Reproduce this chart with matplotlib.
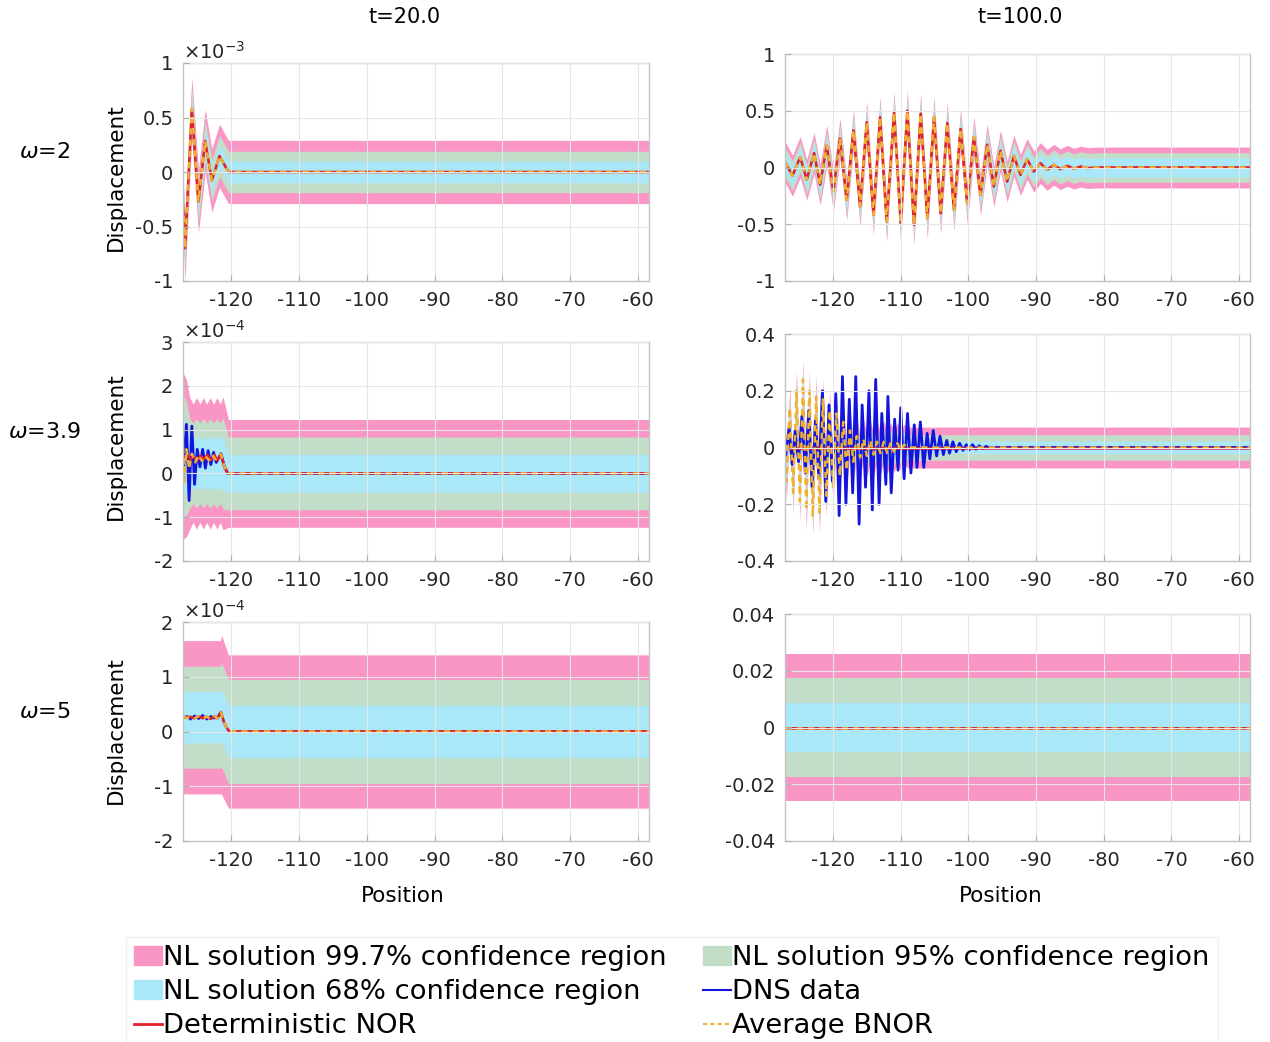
import matplotlib
matplotlib.use('Agg')
import matplotlib.pyplot as plt
from matplotlib.patches import Patch
from matplotlib.lines import Line2D
import numpy as np

plt.rcParams['font.family'] = ['DejaVu Sans']
plt.rcParams['axes.unicode_minus'] = False
plt.rcParams['mathtext.fontset'] = 'dejavusans'

PINK = '#f996c6'
GREEN = '#c2dec8'
CYAN = '#a9e7f9'
BLUE = '#1414dc'
RED = '#e3212b'
ORANGE = '#efb12e'

col_titles = ['t=20.0', 't=100.0']
row_titles = [r'$\omega$=2', r'$\omega$=3.9', r'$\omega$=5']
xticks = [-120, -110, -100, -90, -80, -70, -60]
legend_labels = ['NL solution 99.7% confidence region', 'NL solution 68% confidence region',
                 'Deterministic NOR', 'NL solution 95% confidence region', 'DNS data', 'Average BNOR']

# ---- omega=2, t=20 (x1e-3) ----
w2_t20_x = [-127.1, -126.8, -125.8, -124.82, -123.83, -122.85, -121.72, -120.4, -58.4]
w2_t20_nor = [-0.30, -0.70, 0.58, -0.27, 0.285, -0.077, 0.147, 0.0, 0.0]
w2_t20_hw = [0.29, 0.19, 0.10]

# ---- omega=2, t=100 ----
w2_t100_x = [-127.1, -125.99, -124.86, -123.88, -122.80, -121.91, -120.93, -119.95, -118.97, -117.98,
             -116.99, -116.01, -115.03, -114.04, -113.06, -112.08, -110.99, -110.01, -109.03, -108.05,
             -107.06, -106.08, -105.09, -104.11, -103.13, -102.14, -101.16, -100.18, -99.19, -98.21,
             -97.23, -96.24, -95.26, -94.28, -93.29, -92.31, -91.33, -90.34, -89.36, -88.38,
             -87.39, -86.41, -85.43, -84.4, -83.4, -82.4, -81.0, -58.4]
w2_t100_nor = [0.05, -0.073, 0.092, -0.108, 0.127, -0.152, 0.192, -0.21, 0.254, -0.285,
               0.327, -0.343, 0.398, -0.417, 0.442, -0.475, 0.486, -0.49, 0.500, -0.506,
               0.474, -0.447, 0.445, -0.403, 0.392, -0.374, 0.339, -0.315, 0.268, -0.241,
               0.201, -0.168, 0.148, -0.124, 0.103, -0.065, 0.074, -0.036, 0.039, -0.021,
               0.024, -0.015, 0.015, -0.01, 0.008, -0.005, 0.0, 0.0]
w2_t100_hw = [0.18, 0.13, 0.085]

# ---- omega=3.9, t=20 (x1e-4) ----
w39_t20_nor_x = [-127.1, -126.8, -126.4, -126.0, -125.5, -125.0, -124.5, -124.0, -123.5, -123.0,
                 -122.5, -122.0, -121.5, -121.0, -120.5, -58.4]
w39_t20_nor = [0.40, 0.30, 0.42, 0.32, 0.38, 0.30, 0.40, 0.33, 0.42, 0.30,
               0.42, 0.30, 0.45, 0.15, 0.0, 0.0]
w39_t20_bnor_x = [-127.1, -126.9, -126.6, -126.2, -125.8, -125.3, -124.8, -124.3, -123.8, -123.3,
                  -122.8, -122.3, -121.5, -121.0, -120.5, -58.4]
w39_t20_bnor = [0.60, -0.20, 0.55, 0.10, 0.45, 0.25, 0.42, 0.28, 0.40, 0.30,
                0.42, 0.32, 0.44, 0.15, 0.0, 0.0]
w39_t20_dns_x = [-127.1, -126.6, -126.2, -125.8, -125.4, -125.0, -124.6, -124.2, -123.8, -123.4,
                 -123.0, -122.6, -122.2, -121.5, -121.0, -120.5, -58.4]
w39_t20_dns = [-0.10, 1.12, -0.62, 1.08, -0.25, 0.55, 0.15, 0.55, 0.12, 0.52,
               0.20, 0.48, 0.25, 0.45, 0.15, 0.0, 0.0]
w39_t20_band_x = [-127.1, -126.6, -126.1, -125.6, -125.1, -124.6, -124.1, -123.6, -123.1, -122.6,
                  -122.1, -121.6, -121.2, -120.4, -58.4]
w39_t20_band_c = [0.40, 0.35, 0.23, 0.23, 0.23, 0.23, 0.23, 0.23, 0.23, 0.23,
                  0.23, 0.23, 0.23, 0.0, 0.0]
w39_t20_hw99 = [1.90, 1.80, 1.50, 1.35, 1.50, 1.35, 1.50, 1.35, 1.50, 1.35, 1.50, 1.35, 1.52, 1.23, 1.23]
w39_t20_hw95 = [1.40, 1.30, 1.02, 0.92, 1.02, 0.92, 1.02, 0.92, 1.02, 0.92, 1.02, 0.92, 1.04, 0.83, 0.83]
w39_t20_hw68 = [0.90, 0.80, 0.61, 0.55, 0.61, 0.55, 0.61, 0.55, 0.61, 0.55, 0.61, 0.55, 0.62, 0.43, 0.43]

# ---- omega=3.9, t=100 ----
w39_t100_dns_x = [-127.1, -127.0, -126.5, -126.05, -125.6, -125.1, -124.6, -124.1, -123.6, -123.1,
                  -122.6, -122.1, -121.57, -121.08, -120.6, -120.1, -119.6, -119.1, -118.61, -118.1,
                  -117.6, -117.1, -116.65, -116.15, -115.7, -115.2, -114.7, -114.2, -113.7, -113.2,
                  -112.8, -112.2, -111.9, -111.4, -110.9, -110.4, -110.0, -109.5, -109.0, -108.5,
                  -108.0, -107.6, -107.1, -106.6, -106.1, -105.7, -105.2, -104.7, -104.2, -103.7,
                  -103.2, -102.8, -102.3, -101.8, -101.3, -100.8, -100.3, -99.9, -99.4, -98.9,
                  -98.4, -97.9, -97.4, -97.0, -58.4]
w39_t100_dns = [0.0, -0.03, 0.07, -0.06, 0.06, -0.05, 0.11, -0.09, 0.13, -0.14,
                0.10, -0.11, 0.20, -0.19, 0.15, -0.12, 0.19, -0.24, 0.25, -0.20,
                0.17, -0.16, 0.25, -0.27, 0.15, -0.14, 0.20, -0.22, 0.24, -0.20,
                0.12, -0.13, 0.18, -0.16, 0.10, -0.08, 0.14, -0.11, 0.12, -0.09,
                0.08, -0.07, 0.09, -0.07, 0.05, -0.04, 0.06, -0.03, 0.04, -0.025,
                0.025, -0.02, 0.02, -0.015, 0.015, -0.01, 0.01, -0.008, 0.01, -0.006,
                0.006, -0.004, 0.004, 0.0, 0.0]
w39_t100_bnor_x = [-127.1, -126.9, -126.4, -125.9, -125.4, -124.9, -124.45, -123.95, -123.5, -123.0,
                   -122.5, -122.0, -121.5, -121.0, -120.5, -120.0, -119.5, -119.0, -118.5, -118.0,
                   -117.5, -117.0, -116.5, -116.0, -115.5, -115.0, -114.5, -114.0, -113.5, -113.0,
                   -112.5, -112.0, -111.5, -111.0, -110.5, -110.0, -109.5, -109.0, -58.4]
w39_t100_bnor = [0.05, -0.12, 0.14, -0.16, 0.20, -0.19, 0.24, -0.22, 0.20, -0.24,
                 0.18, -0.23, 0.17, -0.17, 0.13, -0.14, 0.12, -0.10, 0.09, -0.08,
                 0.06, -0.05, 0.04, -0.035, 0.03, -0.03, 0.025, -0.025, 0.02, -0.02,
                 0.02, -0.02, 0.015, -0.015, 0.015, -0.01, 0.01, 0.0, 0.0]
w39_t100_nor_x = [-127.1, -58.4]
w39_t100_nor = [0.0, 0.0]
w39_t100_hw = [0.072, 0.045, 0.022]

# ---- omega=5, t=20 (x1e-4) ----
w5_t20_x = [-127.1, -126.5, -126.0, -125.4, -124.8, -124.2, -123.6, -123.0, -122.5, -122.0,
            -121.5, -121.0, -120.3, -58.4]
w5_t20_nor = [0.26, 0.25, 0.27, 0.24, 0.28, 0.24, 0.27, 0.23, 0.28, 0.24, 0.35, 0.15, 0.0, 0.0]
w5_t20_dns = [0.25, 0.28, 0.22, 0.29, 0.23, 0.30, 0.22, 0.28, 0.24, 0.27, 0.36, 0.14, 0.0, 0.0]
w5_t20_band_x = [-127.1, -121.6, -121.4, -120.4, -58.4]
w5_t20_band_c = [0.26, 0.26, 0.30, 0.0, 0.0]
w5_t20_hw99 = [1.40, 1.40, 1.45, 1.40, 1.40]
w5_t20_hw95 = [0.93, 0.93, 0.95, 0.95, 0.95]
w5_t20_hw68 = [0.47, 0.47, 0.48, 0.48, 0.48]

# ---- omega=5, t=100 ----
w5_t100_x = [-127.1, -58.4]
w5_t100_nor = [0.0, 0.0]
w5_t100_hw = [0.026, 0.0173, 0.0088]

panels = [
    dict(row=0, col=0, ylim=(-1, 1), yticks=[-1, -0.5, 0, 0.5, 1], ylabels=['-1', '-0.5', '0', '0.5', '1'],
         exp='-3', band_x=w2_t20_x, band_c=w2_t20_nor, hw=w2_t20_hw, dns_lw=1.2,
         dns=(w2_t20_x, w2_t20_nor), bnor=(w2_t20_x, w2_t20_nor), nor=(w2_t20_x, w2_t20_nor)),
    dict(row=0, col=1, ylim=(-1, 1), yticks=[-1, -0.5, 0, 0.5, 1], ylabels=['-1', '-0.5', '0', '0.5', '1'],
         exp=None, band_x=w2_t100_x, band_c=w2_t100_nor, hw=w2_t100_hw, dns_lw=1.2,
         dns=(w2_t100_x, w2_t100_nor), bnor=(w2_t100_x, w2_t100_nor), nor=(w2_t100_x, w2_t100_nor)),
    dict(row=1, col=0, ylim=(-2, 3), yticks=[-2, -1, 0, 1, 2, 3], ylabels=['-2', '-1', '0', '1', '2', '3'],
         exp='-4', band_x=w39_t20_band_x, band_c=w39_t20_band_c, dns_lw=2,
         hw=[w39_t20_hw99, w39_t20_hw95, w39_t20_hw68],
         dns=(w39_t20_dns_x, w39_t20_dns), bnor=(w39_t20_bnor_x, w39_t20_bnor), nor=(w39_t20_nor_x, w39_t20_nor)),
    dict(row=1, col=1, ylim=(-0.4, 0.4), yticks=[-0.4, -0.2, 0, 0.2, 0.4],
         ylabels=['-0.4', '-0.2', '0', '0.2', '0.4'],
         exp=None, band_x=w39_t100_bnor_x, band_c=w39_t100_bnor, hw=w39_t100_hw, dns_lw=2,
         dns=(w39_t100_dns_x, w39_t100_dns), bnor=(w39_t100_bnor_x, w39_t100_bnor),
         nor=(w39_t100_nor_x, w39_t100_nor)),
    dict(row=2, col=0, ylim=(-2, 2), yticks=[-2, -1, 0, 1, 2], ylabels=['-2', '-1', '0', '1', '2'],
         exp='-4', band_x=w5_t20_band_x, band_c=w5_t20_band_c, dns_lw=1.5,
         hw=[w5_t20_hw99, w5_t20_hw95, w5_t20_hw68],
         dns=(w5_t20_x, w5_t20_dns), bnor=(w5_t20_x, w5_t20_nor), nor=(w5_t20_x, w5_t20_nor)),
    dict(row=2, col=1, ylim=(-0.04, 0.04), yticks=[-0.04, -0.02, 0, 0.02, 0.04],
         ylabels=['-0.04', '-0.02', '0', '0.02', '0.04'],
         exp=None, band_x=w5_t100_x, band_c=w5_t100_nor, hw=w5_t100_hw, dns_lw=1.2,
         dns=(w5_t100_x, w5_t100_nor), bnor=(w5_t100_x, w5_t100_nor), nor=(w5_t100_x, w5_t100_nor)),
]

W, H = 1270, 1042
fig = plt.figure(figsize=(12.7, 10.42), dpi=100)

col_left = [183, 785]
col_width = [466, 465]
row_bottom = [281, 561, 841]
row_top = {0: [63, 342, 622], 1: [54, 334, 614]}

for p in panels:
    r, c = p['row'], p['col']
    top = row_top[c][r]
    ax = fig.add_axes([col_left[c] / W, 1 - row_bottom[r] / H, col_width[c] / W, (row_bottom[r] - top) / H])
    bx = np.asarray(p['band_x'])
    bc = np.asarray(p['band_c'])
    for hw, color in zip(p['hw'], [PINK, GREEN, CYAN]):
        hw = np.asarray(hw)
        ax.fill_between(bx, bc - hw, bc + hw, color=color, lw=0)
    ax.plot(*p['dns'], color=BLUE, lw=p['dns_lw'], solid_joinstyle='round')
    ax.plot(*p['nor'], color=RED, lw=1.8, solid_joinstyle='round')
    ax.plot(*p['bnor'], color=ORANGE, lw=1.8, linestyle=(0, (2.5, 2)))
    ax.set_xlim(-127.1, -58.4)
    ax.set_ylim(*p['ylim'])
    ax.set_xticks(xticks)
    ax.set_xticklabels([str(t) for t in xticks])
    ax.set_yticks(p['yticks'])
    ax.set_yticklabels(p['ylabels'])
    ax.grid(True, color='#e6e6e6', lw=0.8)
    ax.set_axisbelow(False)
    ax.tick_params(direction='in', length=4, color='#b0b0b0', labelsize=14, labelcolor='#262626', pad=7)
    for s in ax.spines.values():
        s.set_color('#c4c4c4')
        s.set_linewidth(1.0)
    if p['exp']:
        ax.text(0.0, 1.0, r'$\times10^{' + p['exp'] + '}$', transform=ax.transAxes,
                ha='left', va='bottom', fontsize=14, color='#262626')

fig.text(405 / W, 1 - 17 / H, col_titles[0], ha='center', va='center', fontsize=15)
fig.text(1020 / W, 1 - 17 / H, col_titles[1], ha='center', va='center', fontsize=15)
for y, lab in zip([152, 432, 712], row_titles):
    fig.text(45 / W, 1 - y / H, lab, ha='center', va='center', fontsize=16)
for y in [177, 446, 730]:
    fig.text(116 / W, 1 - y / H, 'Displacement', rotation=90, ha='center', va='center', fontsize=15.5)
fig.text(403 / W, 1 - 896 / H, 'Position', ha='center', va='center', fontsize=15.5)
fig.text(1001 / W, 1 - 896 / H, 'Position', ha='center', va='center', fontsize=15.5)

handles = [Patch(color=PINK), Patch(color=CYAN), Line2D([], [], color=RED, lw=2),
           Patch(color=GREEN), Line2D([], [], color=BLUE, lw=1.5),
           Line2D([], [], color=ORANGE, lw=1.5, linestyle=(0, (2, 1.5)))]
fig.legend(handles, legend_labels, ncol=2, loc='upper left', bbox_to_anchor=(112 / W, 1 - 923 / H),
           fontsize=19.7, frameon=True, edgecolor='#eeeeee', fancybox=False,
           handlelength=1.03, handletextpad=0.05, columnspacing=1.3, labelspacing=0.3, borderpad=0.3)

fig.savefig('out.png', dpi=100)
